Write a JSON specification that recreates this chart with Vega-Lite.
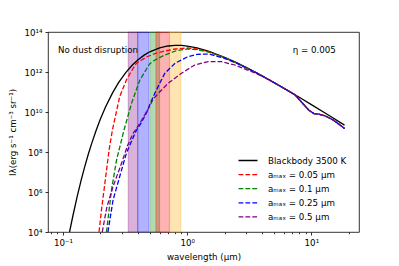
{
  "$schema": "https://vega.github.io/schema/vega-lite/v6.json",
  "width": 311,
  "height": 200,
  "autosize": {"type": "none"},
  "padding": {"left": 48, "top": 32, "right": 40, "bottom": 34},
  "background": "white",
  "config": {
    "font": "DejaVu Sans",
    "view": {"stroke": "black", "strokeWidth": 0.8},
    "axis": {
      "labelFont": "DejaVu Sans", "titleFont": "DejaVu Sans",
      "labelFontSize": 8.7, "titleFontSize": 8.7,
      "labelColor": "black", "titleColor": "black", "titleFontWeight": "normal",
      "tickColor": "black", "tickWidth": 0.8, "grid": false, "domain": false
    }
  },
  "datasets": {
    "bands": [
      {"band": "U", "lo": 0.335, "hi": 0.40},
      {"band": "B", "lo": 0.40, "hi": 0.49},
      {"band": "V", "lo": 0.50, "hi": 0.60},
      {"band": "R", "lo": 0.56, "hi": 0.72},
      {"band": "I", "lo": 0.72, "hi": 0.89}
    ],
    "notes": [
      {"t": "No dust disruption", "lam": 0.0912, "I": 9.4e12},
      {"t": "η = 0.005", "lam": 7.08, "I": 9.4e12}
    ],
    "curves": [
      {"s": "Blackbody 3500 K", "lam": 0.1129, "I": 1e4},
      {"s": "Blackbody 3500 K", "lam": 0.12, "I": 6.31e4},
      {"s": "Blackbody 3500 K", "lam": 0.13, "I": 5.89e5},
      {"s": "Blackbody 3500 K", "lam": 0.14, "I": 3.89e6},
      {"s": "Blackbody 3500 K", "lam": 0.15, "I": 1.95e7},
      {"s": "Blackbody 3500 K", "lam": 0.16, "I": 7.89e7},
      {"s": "Blackbody 3500 K", "lam": 0.17, "I": 2.63e8},
      {"s": "Blackbody 3500 K", "lam": 0.185, "I": 1.23e9},
      {"s": "Blackbody 3500 K", "lam": 0.2, "I": 4.42e9},
      {"s": "Blackbody 3500 K", "lam": 0.22, "I": 1.77e10},
      {"s": "Blackbody 3500 K", "lam": 0.25, "I": 8.79e10},
      {"s": "Blackbody 3500 K", "lam": 0.28, "I": 2.91e11},
      {"s": "Blackbody 3500 K", "lam": 0.32, "I": 9.35e11},
      {"s": "Blackbody 3500 K", "lam": 0.36, "I": 2.16e12},
      {"s": "Blackbody 3500 K", "lam": 0.4, "I": 4.01e12},
      {"s": "Blackbody 3500 K", "lam": 0.45, "I": 6.97e12},
      {"s": "Blackbody 3500 K", "lam": 0.5, "I": 1.023e13},
      {"s": "Blackbody 3500 K", "lam": 0.6, "I": 1.622e13},
      {"s": "Blackbody 3500 K", "lam": 0.7, "I": 2.0e13},
      {"s": "Blackbody 3500 K", "lam": 0.8, "I": 2.15e13},
      {"s": "Blackbody 3500 K", "lam": 0.9, "I": 2.12e13},
      {"s": "Blackbody 3500 K", "lam": 1.0, "I": 1.99e13},
      {"s": "Blackbody 3500 K", "lam": 1.2, "I": 1.61e13},
      {"s": "Blackbody 3500 K", "lam": 1.5, "I": 1.084e13},
      {"s": "Blackbody 3500 K", "lam": 2.0, "I": 5.47e12},
      {"s": "Blackbody 3500 K", "lam": 2.5, "I": 2.92e12},
      {"s": "Blackbody 3500 K", "lam": 3.0, "I": 1.667e12},
      {"s": "Blackbody 3500 K", "lam": 3.5, "I": 1.014e12},
      {"s": "Blackbody 3500 K", "lam": 4.0, "I": 6.49e11},
      {"s": "Blackbody 3500 K", "lam": 5.0, "I": 2.99e11},
      {"s": "Blackbody 3500 K", "lam": 7.0, "I": 8.87e10},
      {"s": "Blackbody 3500 K", "lam": 8.5, "I": 4.31e10},
      {"s": "Blackbody 3500 K", "lam": 10.0, "I": 2.34e10},
      {"s": "Blackbody 3500 K", "lam": 13.0, "I": 8.63e9},
      {"s": "Blackbody 3500 K", "lam": 15.0, "I": 4.98e9},
      {"s": "Blackbody 3500 K", "lam": 18.5, "I": 2.21e9},

      {"s": "aₘₐₓ = 0.05 μm", "lam": 0.195, "I": 1e4},
      {"s": "aₘₐₓ = 0.05 μm", "lam": 0.205, "I": 1.58e5},
      {"s": "aₘₐₓ = 0.05 μm", "lam": 0.217, "I": 2.51e6},
      {"s": "aₘₐₓ = 0.05 μm", "lam": 0.235, "I": 1.26e8},
      {"s": "aₘₐₓ = 0.05 μm", "lam": 0.25, "I": 1.26e9},
      {"s": "aₘₐₓ = 0.05 μm", "lam": 0.27, "I": 1.12e10},
      {"s": "aₘₐₓ = 0.05 μm", "lam": 0.286, "I": 5.89e10},
      {"s": "aₘₐₓ = 0.05 μm", "lam": 0.324, "I": 3.98e11},
      {"s": "aₘₐₓ = 0.05 μm", "lam": 0.36, "I": 1.26e12},
      {"s": "aₘₐₓ = 0.05 μm", "lam": 0.391, "I": 2.75e12},
      {"s": "aₘₐₓ = 0.05 μm", "lam": 0.43, "I": 3.98e12},
      {"s": "aₘₐₓ = 0.05 μm", "lam": 0.47, "I": 5.62e12},
      {"s": "aₘₐₓ = 0.05 μm", "lam": 0.567, "I": 8.91e12},
      {"s": "aₘₐₓ = 0.05 μm", "lam": 0.66, "I": 1.12e13},
      {"s": "aₘₐₓ = 0.05 μm", "lam": 0.8, "I": 1.41e13},
      {"s": "aₘₐₓ = 0.05 μm", "lam": 1.0, "I": 1.58e13},
      {"s": "aₘₐₓ = 0.05 μm", "lam": 1.2, "I": 1.41e13},
      {"s": "aₘₐₓ = 0.05 μm", "lam": 1.5, "I": 1.0e13},
      {"s": "aₘₐₓ = 0.05 μm", "lam": 2.0, "I": 5.25e12},
      {"s": "aₘₐₓ = 0.05 μm", "lam": 2.5, "I": 2.85e12},
      {"s": "aₘₐₓ = 0.05 μm", "lam": 3.0, "I": 1.64e12},
      {"s": "aₘₐₓ = 0.05 μm", "lam": 4.0, "I": 6.46e11},
      {"s": "aₘₐₓ = 0.05 μm", "lam": 5.0, "I": 2.97e11},
      {"s": "aₘₐₓ = 0.05 μm", "lam": 7.0, "I": 8.83e10},
      {"s": "aₘₐₓ = 0.05 μm", "lam": 7.4, "I": 7.08e10},
      {"s": "aₘₐₓ = 0.05 μm", "lam": 8.5, "I": 2.75e10},
      {"s": "aₘₐₓ = 0.05 μm", "lam": 9.5, "I": 1.26e10},
      {"s": "aₘₐₓ = 0.05 μm", "lam": 10.5, "I": 8.32e9},
      {"s": "aₘₐₓ = 0.05 μm", "lam": 11.5, "I": 7.76e9},
      {"s": "aₘₐₓ = 0.05 μm", "lam": 13.0, "I": 6.31e9},
      {"s": "aₘₐₓ = 0.05 μm", "lam": 15.0, "I": 3.98e9},
      {"s": "aₘₐₓ = 0.05 μm", "lam": 17.0, "I": 2.26e9},
      {"s": "aₘₐₓ = 0.05 μm", "lam": 18.5, "I": 1.48e9},

      {"s": "aₘₐₓ = 0.1 μm", "lam": 0.224, "I": 1e4},
      {"s": "aₘₐₓ = 0.1 μm", "lam": 0.2456, "I": 1.26e6},
      {"s": "aₘₐₓ = 0.1 μm", "lam": 0.27, "I": 3.98e7},
      {"s": "aₘₐₓ = 0.1 μm", "lam": 0.31, "I": 1.26e9},
      {"s": "aₘₐₓ = 0.1 μm", "lam": 0.356, "I": 2.69e10},
      {"s": "aₘₐₓ = 0.1 μm", "lam": 0.416, "I": 3.98e11},
      {"s": "aₘₐₓ = 0.1 μm", "lam": 0.5, "I": 2.63e12},
      {"s": "aₘₐₓ = 0.1 μm", "lam": 0.55, "I": 3.98e12},
      {"s": "aₘₐₓ = 0.1 μm", "lam": 0.6, "I": 5.25e12},
      {"s": "aₘₐₓ = 0.1 μm", "lam": 0.66, "I": 7.08e12},
      {"s": "aₘₐₓ = 0.1 μm", "lam": 0.8, "I": 1.12e13},
      {"s": "aₘₐₓ = 0.1 μm", "lam": 1.0, "I": 1.41e13},
      {"s": "aₘₐₓ = 0.1 μm", "lam": 1.2, "I": 1.32e13},
      {"s": "aₘₐₓ = 0.1 μm", "lam": 1.5, "I": 9.77e12},
      {"s": "aₘₐₓ = 0.1 μm", "lam": 2.0, "I": 5.13e12},
      {"s": "aₘₐₓ = 0.1 μm", "lam": 2.5, "I": 2.82e12},
      {"s": "aₘₐₓ = 0.1 μm", "lam": 3.0, "I": 1.62e12},
      {"s": "aₘₐₓ = 0.1 μm", "lam": 4.0, "I": 6.43e11},
      {"s": "aₘₐₓ = 0.1 μm", "lam": 5.0, "I": 2.96e11},
      {"s": "aₘₐₓ = 0.1 μm", "lam": 7.0, "I": 8.83e10},
      {"s": "aₘₐₓ = 0.1 μm", "lam": 7.4, "I": 7.08e10},
      {"s": "aₘₐₓ = 0.1 μm", "lam": 8.5, "I": 2.75e10},
      {"s": "aₘₐₓ = 0.1 μm", "lam": 9.5, "I": 1.26e10},
      {"s": "aₘₐₓ = 0.1 μm", "lam": 10.5, "I": 8.32e9},
      {"s": "aₘₐₓ = 0.1 μm", "lam": 11.5, "I": 7.76e9},
      {"s": "aₘₐₓ = 0.1 μm", "lam": 13.0, "I": 6.31e9},
      {"s": "aₘₐₓ = 0.1 μm", "lam": 15.0, "I": 3.98e9},
      {"s": "aₘₐₓ = 0.1 μm", "lam": 17.0, "I": 2.26e9},
      {"s": "aₘₐₓ = 0.1 μm", "lam": 18.5, "I": 1.48e9},

      {"s": "aₘₐₓ = 0.25 μm", "lam": 0.23, "I": 1e4},
      {"s": "aₘₐₓ = 0.25 μm", "lam": 0.253, "I": 3.98e5},
      {"s": "aₘₐₓ = 0.25 μm", "lam": 0.286, "I": 5.89e6},
      {"s": "aₘₐₓ = 0.25 μm", "lam": 0.324, "I": 8.71e7},
      {"s": "aₘₐₓ = 0.25 μm", "lam": 0.36, "I": 4.0e8},
      {"s": "aₘₐₓ = 0.25 μm", "lam": 0.391, "I": 1.26e9},
      {"s": "aₘₐₓ = 0.25 μm", "lam": 0.43, "I": 3.16e9},
      {"s": "aₘₐₓ = 0.25 μm", "lam": 0.471, "I": 9.33e9},
      {"s": "aₘₐₓ = 0.25 μm", "lam": 0.51, "I": 3.16e10},
      {"s": "aₘₐₓ = 0.25 μm", "lam": 0.55, "I": 8.91e10},
      {"s": "aₘₐₓ = 0.25 μm", "lam": 0.6, "I": 2.69e11},
      {"s": "aₘₐₓ = 0.25 μm", "lam": 0.661, "I": 8.71e11},
      {"s": "aₘₐₓ = 0.25 μm", "lam": 0.8, "I": 2.75e12},
      {"s": "aₘₐₓ = 0.25 μm", "lam": 1.0, "I": 5.62e12},
      {"s": "aₘₐₓ = 0.25 μm", "lam": 1.2, "I": 7.59e12},
      {"s": "aₘₐₓ = 0.25 μm", "lam": 1.5, "I": 7.94e12},
      {"s": "aₘₐₓ = 0.25 μm", "lam": 2.0, "I": 4.79e12},
      {"s": "aₘₐₓ = 0.25 μm", "lam": 2.5, "I": 2.75e12},
      {"s": "aₘₐₓ = 0.25 μm", "lam": 3.0, "I": 1.58e12},
      {"s": "aₘₐₓ = 0.25 μm", "lam": 3.5, "I": 1.0e12},
      {"s": "aₘₐₓ = 0.25 μm", "lam": 4.0, "I": 6.38e11},
      {"s": "aₘₐₓ = 0.25 μm", "lam": 5.0, "I": 2.96e11},
      {"s": "aₘₐₓ = 0.25 μm", "lam": 7.0, "I": 8.83e10},
      {"s": "aₘₐₓ = 0.25 μm", "lam": 7.4, "I": 7.08e10},
      {"s": "aₘₐₓ = 0.25 μm", "lam": 8.5, "I": 2.75e10},
      {"s": "aₘₐₓ = 0.25 μm", "lam": 9.5, "I": 1.26e10},
      {"s": "aₘₐₓ = 0.25 μm", "lam": 10.5, "I": 8.32e9},
      {"s": "aₘₐₓ = 0.25 μm", "lam": 11.5, "I": 7.76e9},
      {"s": "aₘₐₓ = 0.25 μm", "lam": 13.0, "I": 6.31e9},
      {"s": "aₘₐₓ = 0.25 μm", "lam": 15.0, "I": 3.98e9},
      {"s": "aₘₐₓ = 0.25 μm", "lam": 17.0, "I": 2.26e9},
      {"s": "aₘₐₓ = 0.25 μm", "lam": 18.5, "I": 1.48e9},

      {"s": "aₘₐₓ = 0.5 μm", "lam": 0.207, "I": 1e4},
      {"s": "aₘₐₓ = 0.5 μm", "lam": 0.226, "I": 1.86e5},
      {"s": "aₘₐₓ = 0.5 μm", "lam": 0.253, "I": 1.86e6},
      {"s": "aₘₐₓ = 0.5 μm", "lam": 0.296, "I": 2.75e7},
      {"s": "aₘₐₓ = 0.5 μm", "lam": 0.33, "I": 2.0e8},
      {"s": "aₘₐₓ = 0.5 μm", "lam": 0.367, "I": 8.71e8},
      {"s": "aₘₐₓ = 0.5 μm", "lam": 0.403, "I": 2.0e9},
      {"s": "aₘₐₓ = 0.5 μm", "lam": 0.442, "I": 5.25e9},
      {"s": "aₘₐₓ = 0.5 μm", "lam": 0.49, "I": 1.58e10},
      {"s": "aₘₐₓ = 0.5 μm", "lam": 0.532, "I": 4.47e10},
      {"s": "aₘₐₓ = 0.5 μm", "lam": 0.6, "I": 1.0e11},
      {"s": "aₘₐₓ = 0.5 μm", "lam": 0.703, "I": 2.75e11},
      {"s": "aₘₐₓ = 0.5 μm", "lam": 0.901, "I": 8.71e11},
      {"s": "aₘₐₓ = 0.5 μm", "lam": 1.15, "I": 2.24e12},
      {"s": "aₘₐₓ = 0.5 μm", "lam": 1.476, "I": 3.31e12},
      {"s": "aₘₐₓ = 0.5 μm", "lam": 1.89, "I": 3.31e12},
      {"s": "aₘₐₓ = 0.5 μm", "lam": 2.42, "I": 2.24e12},
      {"s": "aₘₐₓ = 0.5 μm", "lam": 3.0, "I": 1.32e12},
      {"s": "aₘₐₓ = 0.5 μm", "lam": 3.5, "I": 9.12e11},
      {"s": "aₘₐₓ = 0.5 μm", "lam": 4.0, "I": 6.17e11},
      {"s": "aₘₐₓ = 0.5 μm", "lam": 5.0, "I": 2.95e11},
      {"s": "aₘₐₓ = 0.5 μm", "lam": 7.0, "I": 8.83e10},
      {"s": "aₘₐₓ = 0.5 μm", "lam": 7.4, "I": 7.08e10},
      {"s": "aₘₐₓ = 0.5 μm", "lam": 8.5, "I": 2.75e10},
      {"s": "aₘₐₓ = 0.5 μm", "lam": 9.5, "I": 1.26e10},
      {"s": "aₘₐₓ = 0.5 μm", "lam": 10.5, "I": 8.32e9},
      {"s": "aₘₐₓ = 0.5 μm", "lam": 11.5, "I": 7.76e9},
      {"s": "aₘₐₓ = 0.5 μm", "lam": 13.0, "I": 6.31e9},
      {"s": "aₘₐₓ = 0.5 μm", "lam": 15.0, "I": 3.98e9},
      {"s": "aₘₐₓ = 0.5 μm", "lam": 17.0, "I": 2.26e9},
      {"s": "aₘₐₓ = 0.5 μm", "lam": 18.5, "I": 1.48e9}
    ]
  },
  "layer": [
    {
      "data": {"name": "bands"},
      "mark": {"type": "rect", "fillOpacity": 0.3, "strokeOpacity": 0.3, "strokeWidth": 1},
      "encoding": {
        "x": {"field": "lo", "type": "quantitative"},
        "x2": {"field": "hi"},
        "fill": {"field": "band", "type": "nominal", "legend": null,
          "scale": {"domain": ["U", "B", "V", "R", "I"], "range": ["#800080", "#0000ff", "#008000", "#ff0000", "#ffa500"]}},
        "stroke": {"field": "band", "type": "nominal", "legend": null,
          "scale": {"domain": ["U", "B", "V", "R", "I"], "range": ["#800080", "#0000ff", "#008000", "#ff0000", "#ffa500"]}}
      }
    },
    {
      "data": {"name": "curves"},
      "transform": [{"filter": "datum.s == 'Blackbody 3500 K'"}],
      "mark": {"type": "line", "strokeWidth": 1.3, "clip": true},
      "encoding": {
        "x": {"field": "lam", "type": "quantitative",
          "scale": {"type": "log", "domain": [0.0757, 24.2], "nice": false},
          "axis": {
            "title": "wavelength (μm)", "titleX": 155.5, "titleY": 27.5, "titleBaseline": "alphabetic", "titleAlign": "center",
            "values": [0.08, 0.09, 0.1, 0.2, 0.3, 0.4, 0.5, 0.6, 0.7, 0.8, 0.9, 1, 2, 3, 4, 5, 6, 7, 8, 9, 10, 20],
            "labelExpr": "datum.value == 0.1 ? '10⁻¹' : datum.value == 1 ? '10⁰' : datum.value == 10 ? '10¹' : ''",
            "labelOverlap": false, "labelFlush": false, "labelPadding": 3, "labelBaseline": "top",
            "tickSize": {"condition": {"test": "datum.value == 0.1 || datum.value == 1 || datum.value == 10", "value": 3}, "value": 1.7}
          }},
        "y": {"field": "I", "type": "quantitative",
          "scale": {"type": "log", "domain": [1e4, 1e14], "nice": false},
          "axis": {
            "title": "Iλ(erg s⁻¹ cm⁻³ sr⁻¹)", "titleX": -35.5, "titleY": 100, "titleAngle": -90, "titleAlign": "center", "titleBaseline": "middle",
            "values": [1e4, 1e6, 1e8, 1e10, 1e12, 1e14],
            "labelExpr": "datum.value == 1e4 ? '10⁴' : datum.value == 1e6 ? '10⁶' : datum.value == 1e8 ? '10⁸' : datum.value == 1e10 ? '10¹⁰' : datum.value == 1e12 ? '10¹²' : '10¹⁴'",
            "tickSize": 3, "labelPadding": 3, "labelOverlap": false, "labelFlush": false
          }},
        "color": {"field": "s", "type": "nominal",
          "scale": {"domain": ["Blackbody 3500 K", "aₘₐₓ = 0.05 μm", "aₘₐₓ = 0.1 μm", "aₘₐₓ = 0.25 μm", "aₘₐₓ = 0.5 μm"],
                    "range": ["#000000", "#ff0000", "#008000", "#0000ff", "#800080"]},
          "legend": {"orient": "none", "legendX": 194.5, "legendY": 123, "title": null, "padding": 0,
            "labelFont": "DejaVu Sans", "labelFontSize": 8.7, "labelFontWeight": "normal", "labelColor": "black",
            "symbolType": "M-2,0H2", "symbolSize": 90, "symbolStrokeWidth": 1.3, "labelOffset": 14.5, "rowPadding": 3.1,
            "encode": {"symbols": {"update": {"strokeDash": {"signal": "datum.value == 'Blackbody 3500 K' ? [1, 0] : [4.8, 2.1]"}}}}}}
      }
    },
    {
      "data": {"name": "curves"},
      "transform": [{"filter": "datum.s != 'Blackbody 3500 K'"}],
      "mark": {"type": "line", "strokeWidth": 1.3, "clip": true, "strokeDash": [4.8, 2.1]},
      "encoding": {
        "x": {"field": "lam", "type": "quantitative"},
        "y": {"field": "I", "type": "quantitative"},
        "color": {"field": "s", "type": "nominal"}
      }
    },
    {
      "data": {"name": "notes"},
      "mark": {"type": "text", "align": "left", "baseline": "alphabetic", "font": "DejaVu Sans", "fontSize": 8.7, "color": "black"},
      "encoding": {
        "x": {"field": "lam", "type": "quantitative"},
        "y": {"field": "I", "type": "quantitative"},
        "text": {"field": "t"}
      }
    }
  ]
}
